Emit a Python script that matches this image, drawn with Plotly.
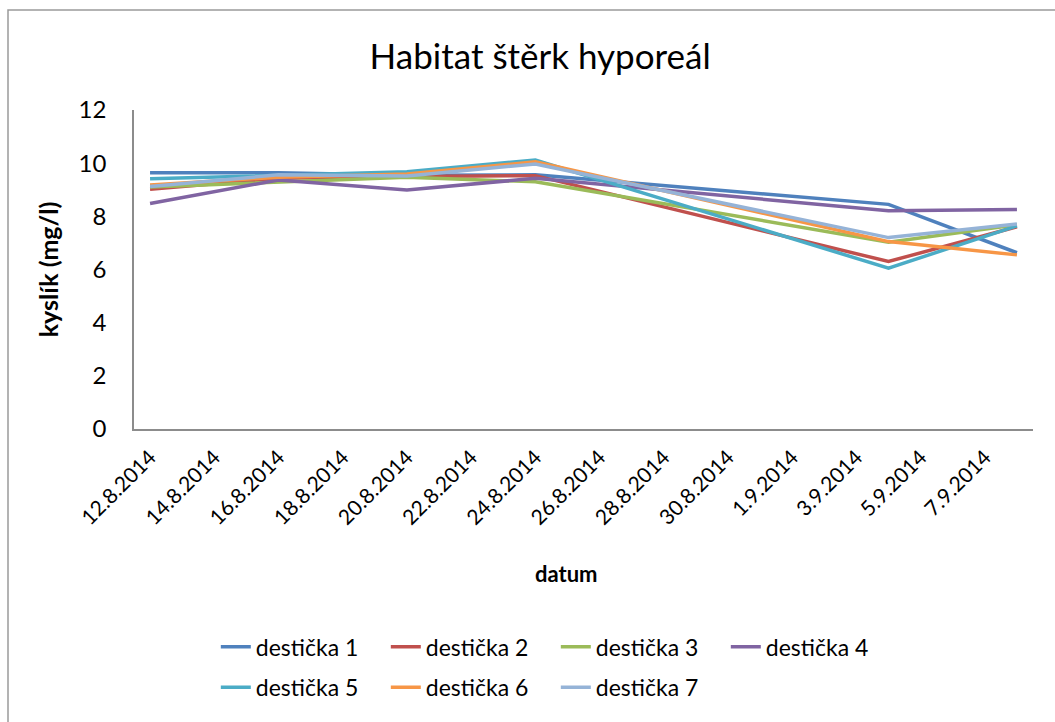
import plotly.graph_objects as go

# Sampling dates (ISO) and oxygen readings per plate
dates = ["2014-08-12", "2014-08-16", "2014-08-20", "2014-08-24", "2014-09-04", "2014-09-08"]

series_names = ["destička 1", "destička 2", "destička 3", "destička 4",
                "destička 5", "destička 6", "destička 7"]

d1 = [9.64, 9.64, 9.55, 9.56, 8.45, 6.63]
d2 = [9.02, 9.43, 9.50, 9.53, 6.30, 7.61]
d3 = [9.10, 9.30, 9.47, 9.30, 7.03, 7.68]
d4 = [8.48, 9.37, 8.99, 9.43, 8.21, 8.26]
d5 = [9.41, 9.55, 9.68, 10.12, 6.05, 7.64]
d6 = [9.18, 9.47, 9.59, 10.05, 7.05, 6.55]
d7 = [9.12, 9.56, 9.52, 9.97, 7.20, 7.71]

colors = ["#4F81BD", "#C0504D", "#9BBB59", "#8064A2", "#4BACC6", "#F79646", "#95B3D7"]

# Axis labels every second day
tick_dates = ["2014-08-12", "2014-08-14", "2014-08-16", "2014-08-18", "2014-08-20",
              "2014-08-22", "2014-08-24", "2014-08-26", "2014-08-28", "2014-08-30",
              "2014-09-01", "2014-09-03", "2014-09-05", "2014-09-07"]
tick_text = ["12.8.2014", "14.8.2014", "16.8.2014", "18.8.2014", "20.8.2014",
             "22.8.2014", "24.8.2014", "26.8.2014", "28.8.2014", "30.8.2014",
             "1.9.2014", "3.9.2014", "5.9.2014", "7.9.2014"]

values = [d1, d2, d3, d4, d5, d6, d7]
FONT = "Lato"

fig = go.Figure()
for i, (name, ys, c) in enumerate(zip(series_names, values, colors)):
    fig.add_trace(go.Scatter(
        x=dates, y=ys, name=name, mode="lines",
        line=dict(color=c, width=3.5),
        legend="legend" if i < 4 else "legend2",
    ))

legend_common = dict(
    orientation="h", xanchor="left", yanchor="middle",
    font=dict(family=FONT, size=23, color="#000"),
    entrywidth=125, entrywidthmode="pixels",
    bgcolor="rgba(0,0,0,0)", itemwidth=30,
)

fig.update_layout(
    width=1055, height=722,
    margin=dict(l=134, r=22, t=110, b=293),
    paper_bgcolor="white", plot_bgcolor="white",
    font=dict(family=FONT, size=22, color="#000"),
    title=dict(text="Habitat štěrk hyporeál", x=0.512, xanchor="center",
               y=0.921, yanchor="middle",
               font=dict(family=FONT, size=35, color="#000")),
    legend=dict(x=0.091, y=-0.683, **legend_common),
    legend2=dict(x=0.091, y=-0.81, **legend_common),
    xaxis=dict(
        type="date",
        range=["2014-08-11 12:00", "2014-09-08 12:00"],
        tickmode="array", tickvals=tick_dates, ticktext=tick_text,
        tickangle=-45, ticks="", ticklabelstandoff=6,
        showline=True, linecolor="#8C8C8C", linewidth=1.5,
        showgrid=False, zeroline=False,
        tickfont=dict(family=FONT, size=21),
    ),
    yaxis=dict(
        range=[0, 12], dtick=2, ticks="", ticklabelstandoff=21,
        showline=True, linecolor="#8C8C8C", linewidth=1.5,
        showgrid=False, zeroline=False,
        tickfont=dict(family=FONT, size=24),
        title=dict(text="<b>kyslík (mg/l)</b>", standoff=13,
                   font=dict(family=FONT, size=25)),
    ),
    annotations=[dict(
        text="<b>datum</b>", xref="paper", yref="paper",
        x=(566 - 134) / 899, y=-(573 - 429) / 319,
        xanchor="center", yanchor="middle", showarrow=False,
        font=dict(family=FONT, size=22, color="#000"),
    )],
)

# Outer chart frame
fig.add_shape(type="rect", xref="paper", yref="paper",
              x0=-126 / 899, x1=1.2, y0=-1.5, y1=(429 - 10) / 319,
              line=dict(color="#9A9A9A", width=1.5), layer="below")

fig.write_html("out.html")
